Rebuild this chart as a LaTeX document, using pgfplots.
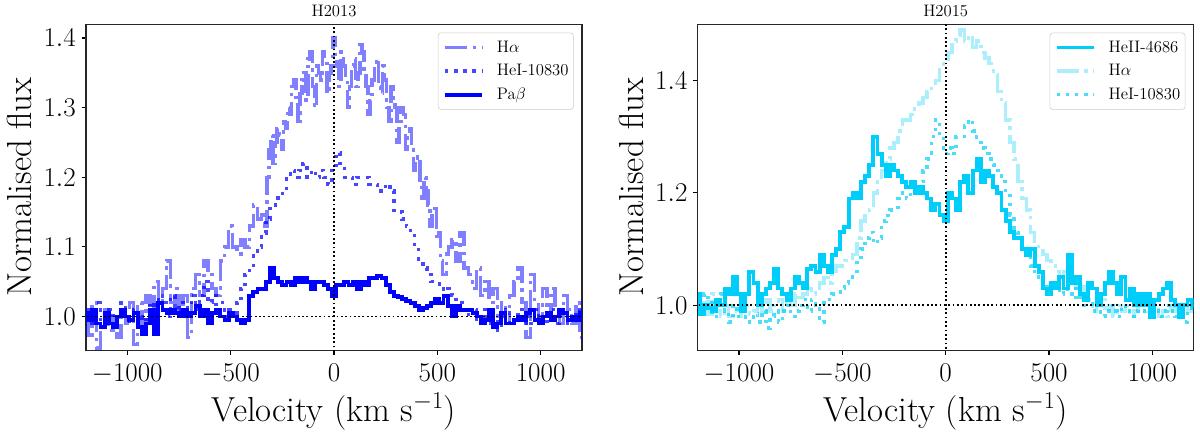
\RequirePackage{fix-cm}
\documentclass[border=0pt]{standalone}
\usepackage{fontspec}
\usepackage{pgfplots}
\pgfplotsset{compat=1.18}
\usepackage{pgfplotstable}

\definecolor{bl}{RGB}{0,0,255}
\definecolor{cy}{RGB}{0,206,250}

% ---------- H2013 ----------
\pgfplotstableread[row sep=\\]{x y\\
-1200 1.0\\ -1180 0.97\\ -1160 1.02\\ -1140 0.955\\ -1120 0.99\\ -1100 1.01\\ -1080 0.98\\ -1060 1.0\\ -1040 0.97\\ -1020 1.01\\
-1000 0.99\\ -980 1.02\\ -960 0.96\\ -940 1.02\\ -920 0.99\\ -900 1.03\\ -880 1.0\\ -860 1.05\\ -840 1.02\\ -820 1.04\\
-800 1.08\\ -780 1.02\\ -760 1.04\\ -740 1.0\\ -720 1.03\\ -700 0.97\\ -680 1.04\\ -660 1.06\\ -640 1.03\\ -620 1.08\\
-600 1.06\\ -580 1.04\\ -560 1.03\\ -540 1.08\\ -520 1.1\\ -500 1.13\\ -480 1.1\\ -460 1.09\\ -440 1.11\\ -420 1.1\\
-400 1.13\\ -380 1.16\\ -360 1.14\\ -340 1.15\\ -330 1.13\\ -320 1.2\\ -310 1.24\\ -300 1.26\\ -290 1.22\\ -280 1.25\\ -270 1.27\\
-260 1.26\\ -250 1.24\\ -240 1.28\\ -230 1.27\\ -220 1.3\\ -210 1.29\\ -200 1.33\\ -190 1.34\\ -180 1.31\\ -170 1.28\\
-160 1.32\\ -150 1.34\\ -140 1.35\\ -130 1.31\\ -120 1.37\\ -110 1.38\\ -100 1.33\\ -90 1.30\\ -80 1.36\\ -70 1.35\\
-60 1.34\\ -50 1.38\\ -40 1.37\\ -30 1.32\\ -20 1.35\\ -10 1.36\\ 0 1.40\\ 10 1.37\\ 20 1.36\\ 30 1.33\\
40 1.38\\ 50 1.36\\ 60 1.34\\ 70 1.30\\ 80 1.33\\ 90 1.36\\ 100 1.37\\ 110 1.33\\ 120 1.35\\ 130 1.39\\
140 1.38\\ 150 1.35\\ 160 1.33\\ 170 1.29\\ 180 1.31\\ 190 1.34\\ 200 1.36\\ 210 1.37\\ 220 1.33\\ 230 1.32\\
240 1.36\\ 250 1.34\\ 260 1.3\\ 270 1.28\\ 280 1.33\\ 290 1.31\\ 300 1.3\\ 310 1.25\\ 320 1.27\\ 330 1.30\\
340 1.29\\ 350 1.24\\ 360 1.26\\ 370 1.27\\ 380 1.24\\ 390 1.21\\ 400 1.22\\ 410 1.23\\ 420 1.19\\ 430 1.17\\
440 1.2\\ 450 1.18\\ 460 1.16\\ 470 1.13\\ 480 1.15\\ 490 1.16\\ 500 1.11\\ 510 1.12\\ 520 1.08\\ 530 1.06\\
540 1.06\\ 550 1.09\\ 560 1.1\\ 580 1.11\\
600 1.08\\ 620 1.12\\ 640 1.07\\ 660 1.06\\ 680 1.04\\ 700 1.07\\ 720 1.03\\ 740 1.05\\ 760 1.02\\ 780 1.04\\
800 1.0\\ 820 1.02\\ 840 0.99\\ 860 1.03\\ 880 1.05\\ 900 1.07\\ 920 1.02\\ 940 0.97\\ 960 1.06\\ 980 1.02\\
1000 1.0\\ 1020 1.04\\ 1040 1.0\\ 1060 1.04\\ 1080 1.01\\ 1100 0.99\\ 1120 1.03\\ 1140 1.01\\ 1160 0.99\\ 1180 1.02\\ 1200 0.97\\
}\LHa

\pgfplotstableread[row sep=\\]{x y\\
-1200 1.01\\ -1180 0.99\\ -1160 1.0\\ -1140 1.02\\ -1120 0.99\\ -1100 1.0\\ -1080 1.01\\ -1060 0.99\\ -1040 1.0\\ -1020 1.02\\
-1000 1.0\\ -980 0.99\\ -960 1.01\\ -940 1.0\\ -920 0.98\\ -900 1.0\\ -880 1.02\\ -860 1.01\\ -840 1.03\\ -820 1.02\\
-800 1.0\\ -780 1.03\\ -760 1.01\\ -740 1.02\\ -720 1.0\\ -700 1.02\\ -680 1.03\\ -660 1.01\\ -640 1.03\\ -620 1.05\\
-600 1.02\\ -580 1.03\\ -560 1.01\\ -540 1.02\\ -520 1.0\\ -500 1.01\\ -480 1.0\\ -460 1.02\\ -440 1.04\\ -420 1.06\\
-400 1.07\\ -380 1.09\\ -360 1.1\\ -340 1.12\\ -320 1.14\\ -300 1.16\\ -280 1.16\\ -260 1.17\\ -240 1.18\\ -220 1.2\\
-200 1.21\\ -180 1.2\\ -160 1.21\\ -140 1.22\\ -120 1.2\\ -100 1.21\\ -80 1.2\\ -60 1.21\\ -40 1.2\\ -20 1.19\\
0 1.21\\ 20 1.235\\ 40 1.22\\ 60 1.2\\ 80 1.2\\ 100 1.19\\ 120 1.2\\ 140 1.2\\ 160 1.2\\ 180 1.19\\
200 1.19\\ 220 1.18\\ 240 1.18\\ 260 1.19\\ 280 1.18\\ 300 1.15\\ 320 1.15\\ 340 1.14\\ 360 1.13\\ 380 1.12\\
400 1.1\\ 420 1.08\\ 440 1.07\\ 460 1.06\\ 480 1.05\\ 500 1.05\\ 520 1.04\\ 540 1.03\\ 560 1.04\\ 580 1.03\\
600 1.02\\ 620 1.02\\ 640 1.01\\ 660 1.0\\ 680 1.01\\ 700 0.99\\ 720 1.0\\ 740 1.01\\ 760 0.99\\ 780 1.0\\
800 0.98\\ 820 1.0\\ 840 1.01\\ 860 0.99\\ 880 1.0\\ 900 1.01\\ 920 0.99\\ 940 1.0\\ 960 0.99\\ 980 1.01\\
1000 1.0\\ 1020 0.99\\ 1040 1.0\\ 1060 1.01\\ 1080 0.99\\ 1100 1.0\\ 1120 1.01\\ 1140 0.99\\ 1160 1.0\\ 1180 1.01\\ 1200 0.99\\
}\LHeI

\pgfplotstableread[row sep=\\]{x y\\
-1200 1.005\\ -1180 0.995\\ -1160 1.01\\ -1140 0.99\\ -1120 0.985\\ -1100 1.005\\ -1080 0.99\\ -1060 0.985\\ -1040 1.0\\ -1020 1.01\\
-1000 1.0\\ -980 0.995\\ -960 1.005\\ -940 0.985\\ -920 0.975\\ -900 0.99\\ -880 1.01\\ -860 0.975\\ -840 1.02\\ -820 1.01\\
-800 1.005\\ -780 1.01\\ -760 1.005\\ -740 1.0\\ -720 1.01\\ -700 1.0\\ -680 1.005\\ -660 1.015\\ -640 1.0\\ -620 1.01\\
-600 0.99\\ -580 1.005\\ -560 1.01\\ -540 1.0\\ -520 0.995\\ -500 1.005\\ -480 1.0\\ -460 0.995\\ -440 0.99\\ -420 0.995\\
-400 1.03\\ -380 1.035\\ -360 1.04\\ -340 1.04\\ -320 1.05\\ -300 1.07\\ -280 1.055\\ -260 1.05\\ -240 1.045\\ -220 1.05\\
-200 1.045\\ -180 1.055\\ -160 1.05\\ -140 1.055\\ -120 1.05\\ -100 1.04\\ -80 1.05\\ -60 1.05\\ -40 1.045\\ -20 1.04\\
0 1.03\\ 20 1.045\\ 40 1.045\\ 60 1.05\\ 80 1.045\\ 100 1.05\\ 120 1.04\\ 140 1.05\\ 160 1.045\\ 180 1.055\\
200 1.055\\ 220 1.058\\ 240 1.055\\ 260 1.045\\ 280 1.035\\ 300 1.03\\ 320 1.028\\ 340 1.025\\ 360 1.022\\ 380 1.02\\
400 1.015\\ 420 1.01\\ 440 1.012\\ 460 1.015\\ 480 1.02\\ 500 1.025\\ 520 1.02\\ 540 1.03\\ 560 1.015\\ 580 1.0\\
600 1.015\\ 620 1.01\\ 640 1.01\\ 660 1.01\\ 680 1.005\\ 700 1.0\\ 720 0.99\\ 740 0.995\\ 760 1.01\\ 780 0.985\\
800 0.99\\ 820 1.005\\ 840 0.99\\ 860 0.99\\ 880 0.995\\ 900 1.0\\ 920 0.995\\ 940 1.005\\ 960 1.01\\ 980 0.995\\
1000 0.99\\ 1020 1.0\\ 1040 1.005\\ 1060 0.995\\ 1080 1.0\\ 1100 1.01\\ 1120 1.005\\ 1140 0.995\\ 1160 1.0\\ 1180 0.995\\ 1200 1.005\\
}\LPab

% ---------- H2015 ----------
\pgfplotstableread[row sep=\\]{x y\\
-1200 1.02\\ -1180 0.985\\ -1160 1.0\\ -1140 0.995\\ -1120 0.99\\ -1100 1.01\\ -1080 1.0\\ -1060 1.03\\ -1040 1.02\\ -1020 1.05\\
-1000 1.02\\ -980 0.99\\ -960 1.02\\ -940 1.06\\ -920 1.04\\ -900 1.0\\ -880 1.02\\ -860 1.03\\ -840 1.04\\ -820 1.065\\
-800 1.03\\ -780 1.02\\ -760 1.01\\ -740 1.03\\ -720 1.05\\ -700 1.04\\ -680 1.03\\ -660 1.065\\ -640 1.07\\ -620 1.06\\
-600 1.09\\ -580 1.07\\ -560 1.06\\ -540 1.09\\ -520 1.1\\ -500 1.13\\ -480 1.14\\ -460 1.19\\ -440 1.2\\ -420 1.19\\
-400 1.22\\ -380 1.23\\ -360 1.25\\ -340 1.3\\ -320 1.27\\ -300 1.25\\ -280 1.23\\ -260 1.25\\ -240 1.24\\ -220 1.23\\
-200 1.22\\ -180 1.21\\ -160 1.22\\ -140 1.2\\ -120 1.21\\ -100 1.2\\ -80 1.19\\ -60 1.17\\ -40 1.18\\ -20 1.16\\
0 1.15\\ 20 1.2\\ 40 1.19\\ 60 1.17\\ 80 1.22\\ 100 1.23\\ 120 1.2\\ 140 1.24\\ 160 1.26\\ 180 1.22\\
200 1.24\\ 220 1.23\\ 240 1.21\\ 260 1.2\\ 280 1.17\\ 300 1.15\\ 320 1.13\\ 340 1.12\\ 360 1.12\\ 380 1.1\\
400 1.09\\ 420 1.1\\ 440 1.07\\ 460 1.06\\ 480 1.03\\ 500 1.02\\ 520 1.04\\ 540 1.03\\ 560 1.05\\ 580 1.03\\
600 1.09\\ 620 1.04\\ 640 1.05\\ 660 1.02\\ 680 1.01\\ 700 1.04\\ 720 1.03\\ 740 1.0\\ 760 1.02\\ 780 1.04\\
800 1.06\\ 820 1.04\\ 840 1.02\\ 860 1.05\\ 880 1.01\\ 900 1.03\\ 920 1.0\\ 940 1.02\\ 960 1.0\\ 980 1.02\\
1000 0.98\\ 1020 1.01\\ 1040 1.02\\ 1060 1.03\\ 1080 1.04\\ 1100 1.01\\ 1120 1.0\\ 1140 0.98\\ 1160 1.0\\ 1180 1.01\\ 1200 1.0\\
}\RHeII

\pgfplotstableread[row sep=\\]{x y\\
-1200 1.0\\ -1180 0.99\\ -1160 1.01\\ -1140 0.985\\ -1120 1.02\\ -1100 0.99\\ -1080 0.98\\ -1060 1.0\\ -1040 0.98\\ -1020 0.99\\
-1000 0.98\\ -980 0.995\\ -960 1.0\\ -940 0.985\\ -920 0.99\\ -900 1.0\\ -880 0.985\\ -860 1.01\\ -840 0.99\\ -820 1.0\\
-800 1.01\\ -780 0.99\\ -760 1.01\\ -740 1.0\\ -720 1.02\\ -700 1.01\\ -680 1.02\\ -660 1.03\\ -640 1.02\\ -620 1.03\\
-600 1.04\\ -580 1.05\\ -560 1.04\\ -540 1.06\\ -520 1.07\\ -500 1.07\\ -480 1.08\\ -460 1.08\\ -440 1.09\\ -420 1.12\\
-400 1.15\\ -380 1.16\\ -360 1.17\\ -340 1.2\\ -320 1.22\\ -300 1.24\\ -280 1.26\\ -260 1.28\\ -240 1.29\\ -220 1.31\\
-200 1.33\\ -180 1.33\\ -160 1.34\\ -140 1.35\\ -120 1.36\\ -100 1.37\\ -80 1.38\\ -60 1.39\\ -40 1.4\\ -20 1.42\\
0 1.43\\ 20 1.45\\ 40 1.47\\ 60 1.48\\ 80 1.49\\ 100 1.47\\ 120 1.48\\ 140 1.46\\ 160 1.47\\ 180 1.45\\
200 1.44\\ 220 1.43\\ 240 1.41\\ 260 1.38\\ 280 1.36\\ 300 1.33\\ 320 1.29\\ 340 1.26\\ 360 1.22\\ 380 1.19\\
400 1.17\\ 420 1.13\\ 440 1.11\\ 460 1.1\\ 480 1.09\\ 500 1.08\\ 520 1.07\\ 540 1.06\\ 560 1.05\\ 580 1.06\\
600 1.04\\ 620 1.05\\ 640 1.03\\ 660 1.04\\ 680 1.02\\ 700 1.01\\ 720 0.99\\ 740 1.0\\ 760 1.01\\ 780 0.99\\
800 1.0\\ 820 0.98\\ 840 1.0\\ 860 0.99\\ 880 1.0\\ 900 0.98\\ 920 0.99\\ 940 1.0\\ 960 0.99\\ 980 1.01\\
1000 0.99\\ 1020 1.0\\ 1040 0.98\\ 1060 0.99\\ 1080 0.98\\ 1100 1.0\\ 1120 0.99\\ 1140 0.985\\ 1160 1.0\\ 1180 0.99\\ 1200 0.995\\
}\RHa

\pgfplotstableread[row sep=\\]{x y\\
-1200 1.02\\ -1180 0.99\\ -1160 1.02\\ -1140 1.01\\ -1120 0.98\\ -1100 1.0\\ -1080 1.02\\ -1060 0.99\\ -1040 0.97\\ -1020 1.0\\
-1000 0.98\\ -980 0.99\\ -960 0.975\\ -940 0.97\\ -920 0.985\\ -900 0.97\\ -880 0.99\\ -860 0.96\\ -840 0.98\\ -820 0.99\\
-800 0.97\\ -780 0.99\\ -760 1.0\\ -740 0.98\\ -720 0.99\\ -700 1.0\\ -680 1.01\\ -660 0.99\\ -640 1.01\\ -620 1.0\\
-600 0.97\\ -580 1.01\\ -560 1.01\\ -540 1.02\\ -520 1.02\\ -500 1.03\\ -480 1.04\\ -460 1.05\\ -440 1.06\\ -420 1.08\\
-400 1.1\\ -380 1.12\\ -360 1.13\\ -340 1.11\\ -320 1.12\\ -300 1.15\\ -280 1.16\\ -260 1.17\\ -240 1.17\\ -220 1.19\\
-200 1.2\\ -180 1.19\\ -160 1.21\\ -140 1.2\\ -120 1.22\\ -100 1.24\\ -80 1.26\\ -60 1.3\\ -40 1.33\\ -20 1.3\\
0 1.27\\ 20 1.28\\ 40 1.27\\ 60 1.3\\ 80 1.3\\ 100 1.32\\ 120 1.33\\ 140 1.31\\ 160 1.29\\ 180 1.28\\
200 1.27\\ 220 1.26\\ 240 1.25\\ 260 1.24\\ 280 1.22\\ 300 1.2\\ 320 1.16\\ 340 1.13\\ 360 1.12\\ 380 1.1\\
400 1.09\\ 420 1.07\\ 440 1.06\\ 460 1.05\\ 480 1.04\\ 500 1.03\\ 520 1.04\\ 540 1.03\\ 560 1.02\\ 580 1.03\\
600 1.02\\ 620 1.03\\ 640 1.01\\ 660 1.02\\ 680 1.0\\ 700 1.01\\ 720 0.99\\ 740 1.0\\ 760 0.98\\ 780 0.99\\
800 1.0\\ 820 0.99\\ 840 0.98\\ 860 1.0\\ 880 0.99\\ 900 0.98\\ 920 0.99\\ 940 1.0\\ 960 0.99\\ 980 1.0\\
1000 0.98\\ 1020 0.99\\ 1040 0.98\\ 1060 0.99\\ 1080 1.0\\ 1100 0.99\\ 1120 0.98\\ 1140 0.99\\ 1160 0.97\\ 1180 0.99\\ 1200 1.0\\
}\RHeI

\pgfplotsset{
  spec/.style={
    scale only axis, width=357.12pt, height=234.72pt, anchor=south west,
    xmin=-1200, xmax=1200,
    axis line style={black!85, line width=0.8pt},
    tick align=outside, major tick length=3.1pt,
    every tick/.style={black, line width=0.8pt},
    xtick pos=lower, ytick pos=left,
    xtick={-1000,-500,0,500,1000},
    ticklabel style={font=\fontsize{19.5}{22}\selectfont},
    xticklabel style={inner sep=0pt, anchor=north, yshift=-6.3pt,
      /pgf/number format/.cd, 1000 sep={}},
    yticklabel style={inner sep=0pt, anchor=east, xshift=-4.1pt,
      /pgf/number format/.cd, fixed, fixed zerofill, precision=1},
    xlabel={Velocity (km s$^{-1}$)}, ylabel={Normalised flux},
    label style={font=\fontsize{25}{30}\selectfont},
    xlabel style={at={(rel axis cs:0.5,0)}, anchor=base, yshift=-51pt, inner sep=0pt},
    ylabel style={at={(rel axis cs:0,0.5)}, anchor=south, yshift=38.9pt, inner sep=0pt},
    title style={font=\fontsize{12}{14}\selectfont, at={(rel axis cs:0.5,1)}, anchor=base, yshift=-0.2pt, inner sep=0pt},
    legend cell align=left,
    legend style={at={(rel axis cs:1,1)}, anchor=north east, xshift=-6pt, yshift=-6pt,
      draw=black!20, rounded corners=2pt, fill=white,
      font=\fontsize{12}{14}\selectfont, inner xsep=3.5pt, inner ysep=5pt,
      row sep=6pt, column sep=9.4pt,
      nodes={inner sep=0pt, text height=9pt, text depth=2pt}},
    legend image code/.code={\draw[#1] (0pt,0pt) -- (26.6pt,0pt);},
  },
  dashdot/.style={line width=2.5pt, dash pattern=on 16pt off 4pt on 2.5pt off 4pt, const plot mark mid},
  dots/.style={line width=2.5pt, dash pattern=on 2.5pt off 4.1pt, const plot mark mid},
  solidl/.style={line width=2.8pt, const plot mark mid},
  refl/.style={black, line width=1.3pt, dash pattern=on 1.3pt off 1.8pt, forget plot},
}

\begin{document}
\begin{tikzpicture}
\useasboundingbox (0,0) rectangle (864pt,313.92pt);
\begin{axis}[spec, at={(61.92pt,61.7pt)}, ymin=0.9515, ymax=1.4197,
  ytick={1.0,1.1,1.2,1.3,1.4}, title={H2013}]
  \addplot[dashdot, bl, draw opacity=0.5] table {\LHa};
  \addlegendentry{H$\alpha$}
  \addplot[dots, bl, draw opacity=0.72] table {\LHeI};
  \addlegendentry{HeI-10830}
  \addplot[solidl, bl] table {\LPab};
  \addlegendentry{Pa$\beta$}
  \addplot[refl] coordinates {(0,0.9) (0,1.5)};
  \addplot[refl] coordinates {(-1300,1) (1300,1)};
\end{axis}
\begin{axis}[spec, at={(502.34pt,61.7pt)}, ymin=0.92, ymax=1.5,
  ytick={1.0,1.2,1.4}, title={H2015}]
  \addplot[solidl, cy] table {\RHeII};
  \addlegendentry{HeII-4686}
  \addplot[dashdot, cy, draw opacity=0.33] table {\RHa};
  \addlegendentry{H$\alpha$}
  \addplot[dots, cy, draw opacity=0.7] table {\RHeI};
  \addlegendentry{HeI-10830}
  \addplot[refl] coordinates {(0,0.9) (0,1.6)};
  \addplot[refl] coordinates {(-1300,1) (1300,1)};
\end{axis}
\end{tikzpicture}
\end{document}
